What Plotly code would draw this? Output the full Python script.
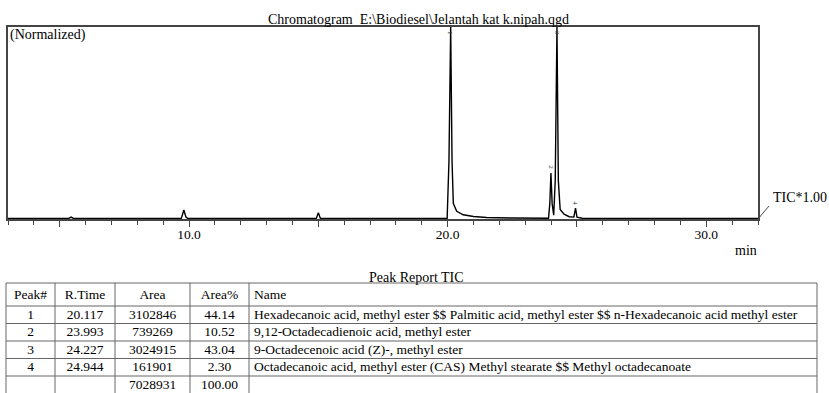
import plotly.graph_objects as go

W, H = 829, 393

# ---- chromatogram trace (retention time in min, normalized intensity %) ----
rt_min = [3.0, 5.35, 5.44, 5.53, 9.70, 9.80, 9.88, 9.95, 14.92, 15.00, 15.08,
          19.98, 20.05, 20.117, 20.17, 20.22, 20.35, 20.6, 21.0, 21.5, 22.5,
          23.9, 23.95, 23.993, 24.04, 24.10, 24.16, 24.227, 24.28, 24.35, 24.5,
          24.7, 24.88, 24.944, 25.0, 25.2, 32.0]
intensity = [0.3, 0.3, 1.0, 0.3, 0.3, 4.7, 1.0, 0.3, 0.3, 3.2, 0.3,
             0.3, 30, 100, 30, 8, 4, 2.2, 1.3, 0.8, 0.5,
             0.4, 8, 24, 8, 2, 20, 100, 20, 5, 2.5,
             1.2, 1.0, 5.7, 1.0, 0.4, 0.3]

# peak labels
peak_label_rt = [20.117, 23.993, 24.227, 24.944]
peak_label_y = [97, 27, 97, 8.5]
peak_label_txt = ["1", "2", "3", "4"]

# axis ticks
tick_vals = [5, 10, 15, 20, 25, 30]
tick_text = ["", "10.0", "", "20.0", "", "30.0"]

# ---- peak report table ----
hdr = ["Peak#", "R.Time", "Area", "Area%", "Name"]
peak_no = ["1", "2", "3", "4", ""]
r_time = ["20.117", "23.993", "24.227", "24.944", ""]
area = ["3102846", "739269", "3024915", "161901", "7028931"]
area_pct = ["44.14", "10.52", "43.04", "2.30", "100.00"]
names = [
    "Hexadecanoic acid, methyl ester $$ Palmitic acid, methyl ester $$ n-Hexadecanoic acid methyl ester",
    "9,12-Octadecadienoic acid, methyl ester",
    "9-Octadecenoic acid (Z)-, methyl ester",
    "Octadecanoic acid, methyl ester (CAS) Methyl stearate $$ Methyl octadecanoate",
    "",
]
columns = [peak_no, r_time, area, area_pct, names]

FONT = "Liberation Serif"

# table layout (pixels)
TABLE_TOP = 283
HEADER_H = 23
ROW_H = 17.5
COL_EDGES = [6, 55, 115, 190, 249, 817]
COL_ALIGN = ["center", "center", "center", "center", "left"]
GRID = "#666"


def px(x):
    return x / W


def py(y):
    return 1 - y / H


fig = go.Figure()

fig.add_trace(go.Scatter(
    x=rt_min, y=intensity, mode="lines",
    line=dict(color="black", width=1.4),
    hoverinfo="skip", showlegend=False,
))

# table text, drawn on a pixel-unit axis pair (x2/y2)
n_rows = len(peak_no)
row_tops = [TABLE_TOP] + [TABLE_TOP + HEADER_H + i * ROW_H for i in range(n_rows)]
row_bottoms = [TABLE_TOP + HEADER_H] + [TABLE_TOP + HEADER_H + (i + 1) * ROW_H for i in range(n_rows)]
row_centers = [(a + b) / 2 for a, b in zip(row_tops, row_bottoms)]

for ci, (h, col) in enumerate(zip(hdr, columns)):
    left, right = COL_EDGES[ci], COL_EDGES[ci + 1]
    if COL_ALIGN[ci] == "center":
        xpos = (left + right) / 2
        tpos = "middle center"
    else:
        xpos = left + 5
        tpos = "middle right"
    fig.add_trace(go.Scatter(
        x=[xpos] * (n_rows + 1), y=[row_centers[0] + 1.5] + [c + 0.5 for c in row_centers[1:]],
        text=[h] + list(col), mode="text", textposition=tpos,
        textfont=dict(family=FONT, size=13.5, color="black"),
        xaxis="x2", yaxis="y2", hoverinfo="skip", showlegend=False,
    ))

annotations = [
    dict(text="Chromatogram  E:\\Biodiesel\\Jelantah kat k.nipah.qgd",
         x=px(418), y=py(19), xanchor="center", yanchor="middle",
         font=dict(size=14)),
    dict(text="(Normalized)", x=px(8), y=py(35), xanchor="left", yanchor="middle",
         font=dict(size=14)),
    dict(text="TIC*1.00", x=px(771), y=py(198), xanchor="left", yanchor="middle",
         font=dict(size=14)),
    dict(text="min", x=px(746), y=py(250), xanchor="center", yanchor="middle",
         font=dict(size=14)),
    dict(text="Peak Report TIC", x=px(416), y=py(277), xanchor="center", yanchor="middle",
         font=dict(size=14)),
]
for a in annotations:
    a.update(xref="paper", yref="paper", showarrow=False)
    a["font"].update(family=FONT, color="black")

for t, yv, s in zip(peak_label_rt, peak_label_y, peak_label_txt):
    annotations.append(dict(
        text=s, x=t, y=yv, xref="x", yref="y", showarrow=False, textangle=90,
        xanchor="center", yanchor="middle",
        font=dict(family=FONT, size=7, color="#333"),
    ))

shapes = [
    dict(type="line", xref="paper", yref="paper",
         x0=px(758), y0=py(219), x1=px(769), y1=py(206),
         line=dict(color="#444", width=1)),
]
# table grid
hlines = [TABLE_TOP] + row_bottoms
for yv in hlines:
    shapes.append(dict(type="line", xref="x2", yref="y2",
                       x0=COL_EDGES[0], x1=COL_EDGES[-1], y0=yv, y1=yv,
                       line=dict(color=GRID, width=1)))
for xv in COL_EDGES:
    shapes.append(dict(type="line", xref="x2", yref="y2",
                       x0=xv, x1=xv, y0=TABLE_TOP, y1=hlines[-1],
                       line=dict(color=GRID, width=1)))

fig.update_layout(
    width=W, height=H, autosize=False,
    margin=dict(l=0, r=0, t=0, b=0, pad=0),
    paper_bgcolor="white", plot_bgcolor="white",
    showlegend=False,
    annotations=annotations, shapes=shapes,
    xaxis=dict(
        domain=[px(8), px(758)], range=[3.0, 32.0],
        showgrid=False, zeroline=False,
        showline=True, linecolor="#444", linewidth=1.5, mirror=True,
        ticks="outside", ticklen=6, tickwidth=1, tickcolor="#444",
        tickvals=tick_vals, ticktext=tick_text, ticklabelstandoff=-4,
        tickfont=dict(family=FONT, size=13.5, color="black"),
        minor=dict(dtick=1, ticks="outside", ticklen=4, tickcolor="#444", showgrid=False),
        fixedrange=True,
    ),
    yaxis=dict(
        domain=[py(219), py(27)], range=[0, 100],
        showgrid=False, zeroline=False,
        showline=True, linecolor="#444", linewidth=1.5, mirror=True,
        showticklabels=False, ticks="", fixedrange=True,
    ),
    xaxis2=dict(
        domain=[0, 1], range=[0, W], visible=False, fixedrange=True,
        anchor="y2",
    ),
    yaxis2=dict(
        domain=[0, py(TABLE_TOP - 8)], range=[H, TABLE_TOP - 8], visible=False,
        fixedrange=True, anchor="x2",
    ),
)

fig.write_html("out.html")
